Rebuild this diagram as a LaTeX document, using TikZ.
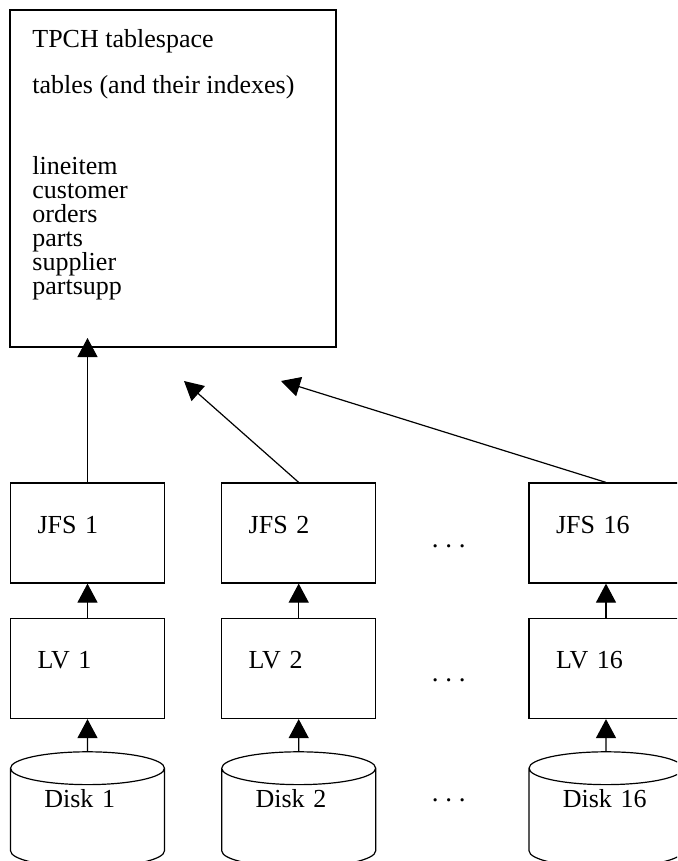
\documentclass[tikz,border=0pt]{standalone}
\usepackage{fontspec}
\setmainfont{Liberation Serif}
\usetikzlibrary{shapes.geometric, arrows.meta, positioning}

\begin{document}
\begin{tikzpicture}[
  x=0.5pt, y=-0.5pt,
  bigbox/.style={draw, line width=0.6pt, minimum width=163pt,
                 minimum height=168.5pt, inner sep=0pt},
  listtext/.style={align=left, inner sep=0pt, font=\fontsize{13}{12}\selectfont},
  box/.style={draw, line width=0.6pt, align=left, minimum width=77pt,
              minimum height=50pt, text width=50pt, inner xsep=13.5pt,
              inner ysep=2pt, text height=8pt, text depth=8pt,
              font=\fontsize{13}{14.75}\selectfont},
  disk/.style={draw, line width=0.6pt, cylinder, shape border rotate=90,
               aspect=0.38, minimum width=77pt, minimum height=57.7pt,
               align=left, text width=43.2pt, inner sep=0pt,
               text height=8pt, text depth=19pt,
               font=\fontsize{13}{14.75}\selectfont},
  dots/.style={inner sep=0pt, font=\fontsize{13.5}{14}\selectfont},
  link/.style={line width=0.6pt, -{Triangle[width=10pt,length=9.5pt]}}
]
\clip (0,0) rectangle (677,861);
\node[bigbox] (tpch) at (173,178.5) {};
\node[listtext, anchor=north west] (tpchtext) at (32,29)
  {TPCH tablespace\\[11pt]
   tables (and their indexes)\\[28.5pt]
   lineitem\\customer\\orders\\parts\\supplier\\partsupp};
\node[box] (jfs1)  at (87.5, 533) {JFS 1};
\node[box] (jfs2)  at (298.7,533) {JFS 2};
\node[box] (jfs16) at (606,  533) {JFS 16};
\node[box] (lv1)   at (87.5, 668.5) {LV 1};
\node[box] (lv2)   at (298.7,668.5) {LV 2};
\node[box] (lv16)  at (606,  668.5) {LV 16};
\node[disk, anchor=shape center] (disk1)  at (87.5, 809.5) {Disk 1};
\node[disk, anchor=shape center] (disk2)  at (298.7,809.5) {Disk 2};
\node[disk, anchor=shape center] (disk16) at (606,  809.5) {Disk 16};
\node[dots] (dotsjfs)  at (448.7,546) {.\ .\ .};
\node[dots] (dotslv)   at (448.7,680) {.\ .\ .};
\node[dots] (dotsdisk) at (448.7,800) {.\ .\ .};
\coordinate (in1)  at (87.5,338);
\coordinate (in2)  at (184,381);
\coordinate (in16) at (281,381);
\draw[link] (jfs1.north)  -- (in1);
\draw[link] (jfs2.north)  -- (in2);
\draw[link] (jfs16.north) -- (in16);
\draw[link] (lv1)    -- (jfs1);
\draw[link] (lv2)    -- (jfs2);
\draw[link] (lv16)   -- (jfs16);
\draw[link] (disk1)  -- (lv1);
\draw[link] (disk2)  -- (lv2);
\draw[link] (disk16) -- (lv16);
\end{tikzpicture}
\end{document}
